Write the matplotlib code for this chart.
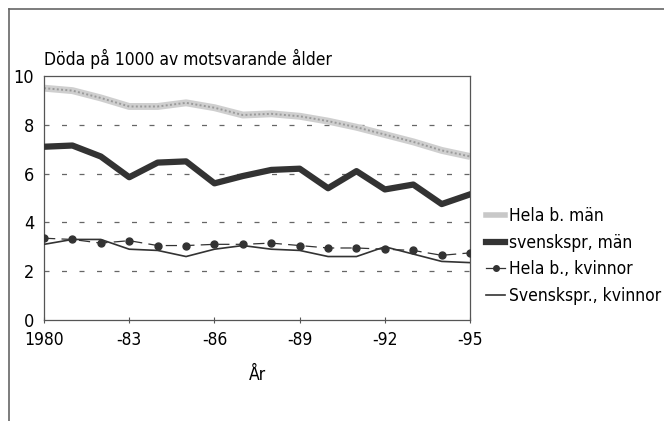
import matplotlib.pyplot as plt
from matplotlib.lines import Line2D
from matplotlib import font_manager
import numpy as np

names = set(f.name for f in font_manager.fontManager.ttflist)
if 'Liberation Sans Narrow' in names:
    plt.rcParams['font.family'] = ['Liberation Sans Narrow', 'DejaVu Sans']
else:
    plt.rcParams['font.family'] = ['DejaVu Sans']
    plt.rcParams['font.stretch'] = 'condensed'

years = list(range(1980, 1996))
hela_man = [9.5, 9.4, 9.1, 8.75, 8.75, 8.9, 8.7, 8.4, 8.45, 8.35, 8.15, 7.9, 7.6, 7.3, 6.95, 6.7]
svensk_man = [7.1, 7.15, 6.7, 5.85, 6.45, 6.5, 5.6, 5.9, 6.15, 6.2, 5.4, 6.1, 5.35, 5.55, 4.75, 5.15]
hela_kv = [3.35, 3.3, 3.15, 3.25, 3.05, 3.05, 3.1, 3.1, 3.15, 3.05, 2.95, 2.95, 2.9, 2.85, 2.65, 2.75]
svensk_kv = [3.1, 3.3, 3.3, 2.9, 2.85, 2.6, 2.9, 3.05, 2.9, 2.85, 2.6, 2.6, 3.0, 2.7, 2.4, 2.35]
xticks = [1980, 1983, 1986, 1989, 1992, 1995]
xticklabels = ['1980', '-83', '-86', '-89', '-92', '-95']
labels = ['Hela b. män', 'svenskspr, män', 'Hela b., kvinnor', 'Svenskspr., kvinnor']

fig = plt.figure(figsize=(6.64, 4.21), dpi=100)
ax = fig.add_axes([0.0663, 0.240, 0.6417, 0.5795])

dark = '#333333'
for yv in [2, 4, 6, 8]:
    ax.axhline(yv, color='#666666', lw=0.9, linestyle=(0, (4, 10)), zorder=1)

ax.plot(years, hela_man, color='#cfcfcf', lw=5, zorder=2, solid_capstyle='butt')
ax.plot(years, hela_man, color='#9a9a9a', lw=1.4, linestyle=(0, (1, 1.2)), zorder=2)
ax.plot(years, svensk_man, color=dark, lw=4.5, zorder=3)
ax.plot(years, hela_kv, color=dark, lw=0.9, linestyle=(0, (9, 5)), marker='o', ms=5, zorder=4)
ax.plot(years, svensk_kv, color=dark, lw=1.2, zorder=4)

ax.set_xlim(1980, 1995)
ax.set_ylim(0, 10)
ax.set_yticks([0, 2, 4, 6, 8, 10])
ax.set_xticks(xticks)
ax.set_xticklabels(xticklabels)
ax.tick_params(axis='y', length=0, labelsize=13, pad=7)
ax.tick_params(axis='x', length=4, direction='inout', labelsize=12.5, pad=6, color='#555555')
for s in ax.spines.values():
    s.set_color('#555555')
    s.set_linewidth(0.9)

ax.set_xlabel('År', fontsize=12.5, labelpad=12)
ax.set_title('Döda på 1000 av motsvarande ålder', fontsize=12.5, loc='left', pad=8)

handles = [
    Line2D([], [], color='#c8c8c8', lw=4),
    Line2D([], [], color=dark, lw=4.5),
    Line2D([], [], color=dark, lw=0.9, marker='o', ms=4),
    Line2D([], [], color=dark, lw=1.2),
]
fig.legend(handles, labels, loc='upper left', bbox_to_anchor=(0.722, 0.525),
           frameon=False, fontsize=12.5, handlelength=1.1, handletextpad=0.2,
           labelspacing=0.5, borderaxespad=0)

fig.add_artist(Line2D([9 / 664, 9 / 664], [0, 1 - 9 / 421], color='#666666', lw=1.2))
fig.add_artist(Line2D([9 / 664, 1], [1 - 9 / 421, 1 - 9 / 421], color='#666666', lw=1.2))

fig.savefig('out.png', dpi=100)
